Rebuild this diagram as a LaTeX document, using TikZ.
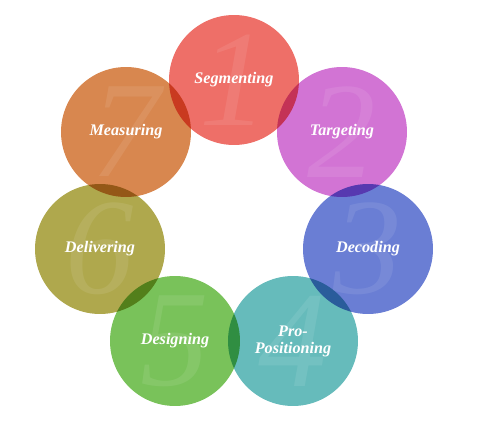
\documentclass[tikz,border=0pt]{standalone}
\usepackage{tikz}
\usepackage{xcolor}
\usepackage{fontspec}
\setmainfont{Liberation Serif}
\usetikzlibrary{positioning}
\definecolor{stepred}{RGB}{238, 111, 104}
\definecolor{steppurple}{RGB}{210, 116, 212}
\definecolor{stepblue}{RGB}{106, 126, 212}
\definecolor{stepteal}{RGB}{102, 187, 187}
\definecolor{stepgreen}{RGB}{121, 194, 90}
\definecolor{stepolive}{RGB}{175, 168, 77}
\definecolor{steporange}{RGB}{216, 135, 79}
\tikzset{
    stepcircle/.style={circle, minimum size=2.6cm, inner sep=0pt},
    stepnum/.style={text=white, text opacity=0.09, font=\fontsize{78}{78}\selectfont\itshape},
    steplabel/.style={text=white, align=center, font=\fontsize{9.2}{9.6}\selectfont\bfseries\itshape}
}

\begin{document}
\begin{tikzpicture}[x=0.02cm, y=-0.02cm]
    \useasboundingbox (0,0) rectangle (480,425);
    \begin{scope}[blend group=multiply]
        \node[stepcircle, fill=stepred]    (seg) at (234,80)  {};
        \node[stepcircle, fill=steppurple] (tar) at (342,132) {};
        \node[stepcircle, fill=stepblue]   (dec) at (368,249) {};
        \node[stepcircle, fill=stepteal]   (pos) at (293,341) {};
        \node[stepcircle, fill=stepgreen]  (des) at (175,341) {};
        \node[stepcircle, fill=stepolive]  (del) at (100,249) {};
        \node[stepcircle, fill=steporange] (mea) at (126,132) {};
    \end{scope}
    % faint numbers
    \node[stepnum] (n1) at (seg) {1};
    \node[stepnum] (n2) at (tar) {2};
    \node[stepnum] (n3) at (dec) {3};
    \node[stepnum] (n4) at (pos) {4};
    \node[stepnum] (n5) at (des) {5};
    \node[stepnum] (n6) at (del) {6};
    \node[stepnum] (n7) at (mea) {7};
    % labels
    \node[steplabel] (l1) at (seg) {Segmenting};
    \node[steplabel] (l2) at (tar) {Targeting};
    \node[steplabel] (l3) at (dec) {Decoding};
    \node[steplabel] (l4) at (pos) {Pro-\\Positioning};
    \node[steplabel] (l5) at (des) {Designing};
    \node[steplabel] (l6) at (del) {Delivering};
    \node[steplabel] (l7) at (mea) {Measuring};
\end{tikzpicture}
\end{document}
